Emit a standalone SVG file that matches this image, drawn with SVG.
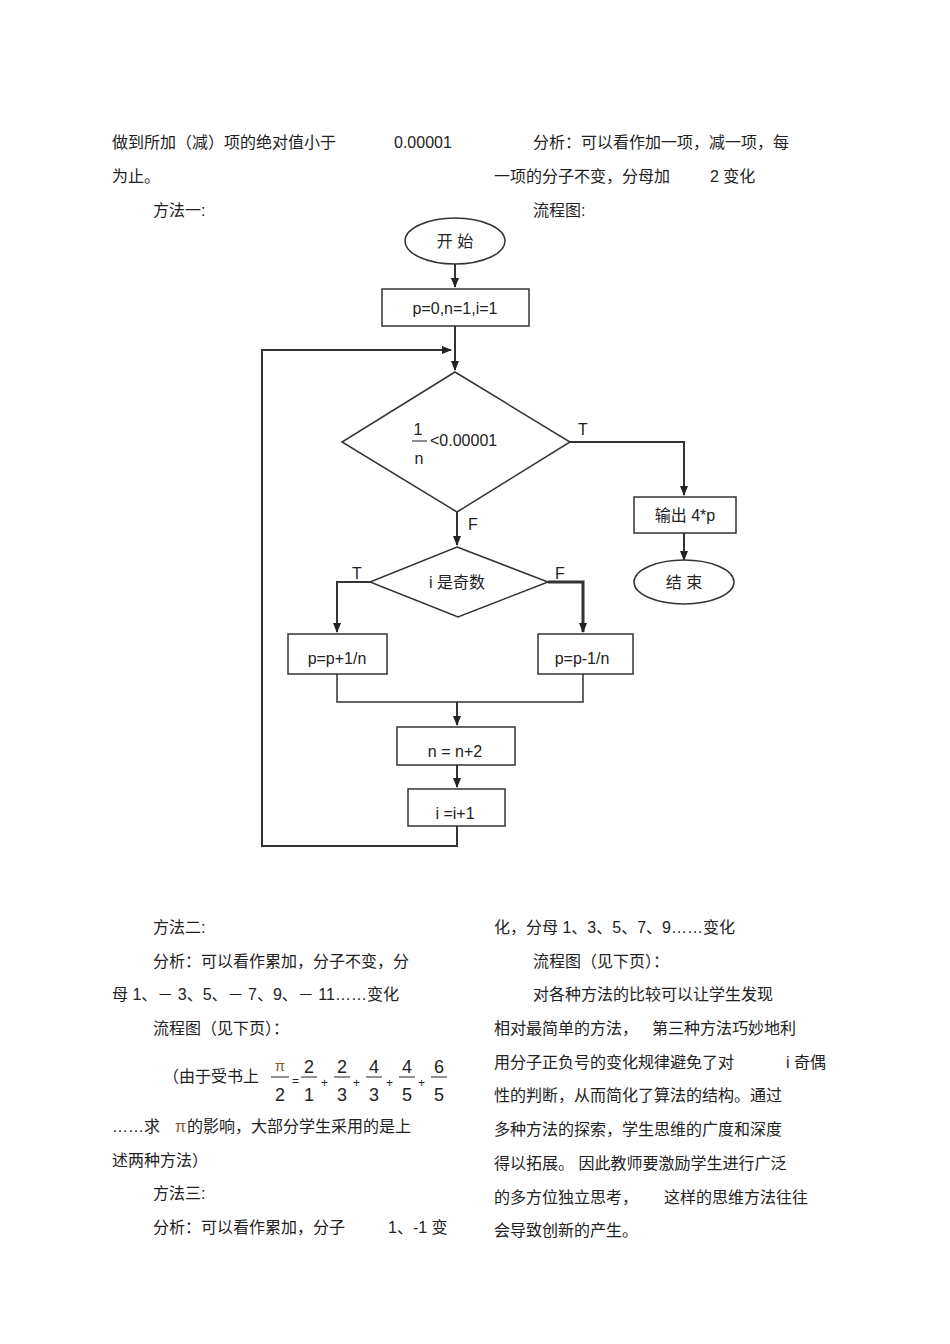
<svg xmlns="http://www.w3.org/2000/svg" width="950" height="1344" viewBox="0 0 950 1344">
<defs><marker id="a" markerWidth="10" markerHeight="10" refX="9" refY="5" orient="auto" markerUnits="userSpaceOnUse"><path d="M0,1 L10,5 L0,9 Z" fill="#222"/></marker></defs>
<style>
text{font-family:"Liberation Sans","Noto Sans CJK SC",sans-serif;font-size:16px;fill:#222}
.n{fill:#fff;stroke:#333;stroke-width:1.5}
.c{fill:none;stroke:#333;stroke-width:2}
.m{text-anchor:middle}
</style>
<rect width="950" height="1344" fill="#fff"/>
<g id="text">
<text x="112" y="148">做到所加（减）项的绝对值小于</text><text x="394" y="148">0.00001</text>
<text x="533" y="148">分析：可以看作加一项，减一项，每</text>
<text x="112" y="182">为止。</text>
<text x="494" y="182">一项的分子不变，分母加</text><text x="710" y="182">2 变化</text>
<text x="153" y="216">方法一:</text><text x="533" y="216">流程图:</text>
<text x="153" y="933">方法二:</text>
<text x="153" y="967">分析：可以看作累加，分子不变，分</text>
<text x="112" y="1000">母 1、－ 3、5、－ 7、9、－ 11……变化</text>
<text x="153" y="1034">流程图（见下页）：</text>
<text x="163" y="1082">（由于受书上</text>
<text x="280" y="1071" class="m" style="font-size:15px;fill:#8a5a2a">π</text><line x1="271" y1="1077" x2="289" y2="1077" stroke="#222"/><text x="280" y="1101" class="m" style="font-size:18px">2</text>
<text x="292" y="1085" style="font-size:12px">=</text>
<text x="309" y="1073" class="m" style="font-size:18px">2</text><line x1="301" y1="1077" x2="317" y2="1077" stroke="#222"/><text x="309" y="1101" class="m" style="font-size:18px">1</text>
<text x="321" y="1087" style="font-size:12px">+</text>
<text x="342" y="1073" class="m" style="font-size:18px">2</text><line x1="334" y1="1077" x2="350" y2="1077" stroke="#222"/><text x="342" y="1101" class="m" style="font-size:18px">3</text>
<text x="353" y="1087" style="font-size:12px">+</text>
<text x="374" y="1073" class="m" style="font-size:18px">4</text><line x1="366" y1="1077" x2="382" y2="1077" stroke="#222"/><text x="374" y="1101" class="m" style="font-size:18px">3</text>
<text x="386" y="1087" style="font-size:12px">+</text>
<text x="407" y="1073" class="m" style="font-size:18px">4</text><line x1="399" y1="1077" x2="415" y2="1077" stroke="#222"/><text x="407" y="1101" class="m" style="font-size:18px">5</text>
<text x="418" y="1087" style="font-size:12px">+</text>
<text x="439" y="1073" class="m" style="font-size:18px">6</text><line x1="431" y1="1077" x2="447" y2="1077" stroke="#222"/><text x="439" y="1101" class="m" style="font-size:18px">5</text>
<text x="112" y="1132">……求</text><text x="175" y="1132" style="fill:#8a5a2a">π</text><text x="187" y="1132">的影响，大部分学生采用的是上</text>
<text x="112" y="1166">述两种方法）</text>
<text x="153" y="1199">方法三:</text>
<text x="153" y="1233">分析：可以看作累加，分子</text><text x="388" y="1233">1、-1 变</text>
<text x="494" y="933">化，分母  1、3、5、7、9……变化</text>
<text x="533" y="967">流程图（见下页）：</text>
<text x="533" y="1000">对各种方法的比较可以让学生发现</text>
<text x="494" y="1034">相对最简单的方法，</text><text x="652" y="1034">第三种方法巧妙地利</text>
<text x="494" y="1068">用分子正负号的变化规律避免了对</text><text x="786" y="1068">i 奇偶</text>
<text x="494" y="1101">性的判断，从而简化了算法的结构。通过</text>
<text x="494" y="1135">多种方法的探索，学生思维的广度和深度</text>
<text x="494" y="1169">得以拓展。 因此教师要激励学生进行广泛</text>
<text x="494" y="1203">的多方位独立思考，</text><text x="664" y="1203">这样的思维方法往往</text>
<text x="494" y="1236">会导致创新的产生。</text>
</g>
<g id="connectors">
<path class="c" d="M455,264 V287" marker-end="url(#a)"/>
<path class="c" d="M455,326 V370" marker-end="url(#a)"/>
<path class="c" d="M570,442 H684 V495" marker-end="url(#a)"/>
<path class="c" d="M684,533 V560" marker-end="url(#a)"/>
<path class="c" d="M457,512 V545" marker-end="url(#a)"/>
<path class="c" d="M370,582 H337 V632" marker-end="url(#a)"/>
<path class="c" d="M548,582 H583 V632" style="stroke-width:3" marker-end="url(#a)"/>
<path class="c" d="M337,674 V702 H583 V674" style="stroke-width:1.5"/>
<path class="c" d="M457,702 V725" marker-end="url(#a)"/>
<path class="c" d="M457,765 V787" marker-end="url(#a)"/>
<path class="c" d="M457,826 V846 H262 V350 H451" marker-end="url(#a)"/>
<text x="578" y="435">T</text><text x="468" y="530">F</text>
<text x="352" y="579">T</text><text x="555" y="579">F</text>
</g>
<g id="start"><ellipse class="n" cx="455" cy="241" rx="50" ry="23"/><text x="455" y="247" class="m">开  始</text></g>
<g id="init"><rect class="n" x="382" y="289" width="147" height="37"/><text x="455" y="314" class="m">p=0,n=1,i=1</text></g>
<g id="cond1"><polygon class="n" points="455,372 570,442 457,512 342,442"/><text x="418" y="435" class="m">1</text><line x1="412" y1="441" x2="427" y2="441" stroke="#222"/><text x="419" y="464" class="m">n</text><text x="430" y="446">&lt;0.00001</text></g>
<g id="output"><rect class="n" x="634" y="497" width="102" height="36"/><text x="685" y="521" class="m">输出  4*p</text></g>
<g id="end"><ellipse class="n" cx="684" cy="582" rx="50" ry="22"/><text x="684" y="588" class="m">结  束</text></g>
<g id="cond2"><polygon class="n" points="457,547 548,582 458,617 370,582"/><text x="457" y="588" class="m">i 是奇数</text></g>
<g id="plus"><rect class="n" x="288" y="634" width="99" height="40"/><text x="337" y="664" class="m">p=p+1/n</text></g>
<g id="minus"><rect class="n" x="538" y="634" width="95" height="40"/><text x="582" y="664" class="m">p=p-1/n</text></g>
<g id="ninc"><rect class="n" x="397" y="727" width="118" height="38"/><text x="455" y="757" class="m">n = n+2</text></g>
<g id="iinc"><rect class="n" x="408" y="789" width="97" height="37"/><text x="455" y="819" class="m">i =i+1</text></g>
</svg>
